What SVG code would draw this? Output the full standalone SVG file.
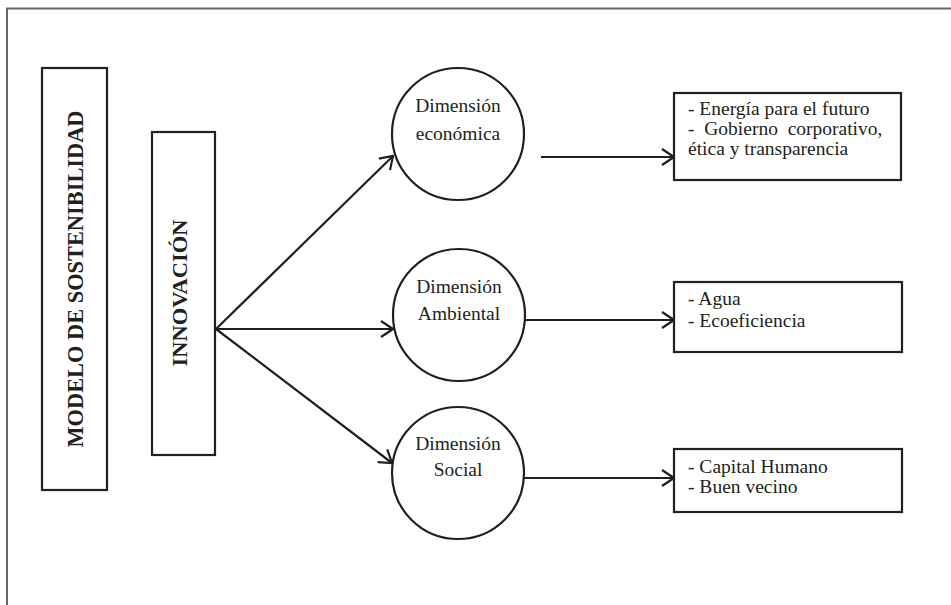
<svg xmlns="http://www.w3.org/2000/svg" width="951" height="605" viewBox="0 0 951 605">
<defs>
<style>
.box{fill:#fff;stroke:#231f20;stroke-width:2.2}
.circ{fill:#fff;stroke:#231f20;stroke-width:2.2}
.con{fill:none;stroke:#231f20;stroke-width:2.2}
.t{font-family:"Liberation Serif","Times New Roman",serif;font-size:19.5px;fill:#231f20}
.tc{text-anchor:middle}
.b{font-family:"Liberation Serif","Times New Roman",serif;font-weight:bold;fill:#231f20;text-anchor:middle}
.frame{fill:none;stroke:#666;stroke-width:2}
</style>
<marker id="arr" viewBox="0 0 14 18" refX="13" refY="9" markerWidth="14" markerHeight="18" markerUnits="userSpaceOnUse" orient="auto">
<path d="M1,1 L13,9 L1,17" fill="none" stroke="#231f20" stroke-width="2.2"/>
</marker>
</defs>
<rect width="951" height="605" fill="#fff"/>
<path class="frame" d="M7,605 L7,8.5 L951,8.5"/>
<g id="modelo">
<rect class="box" x="42" y="68" width="65" height="422"/>
<text class="b" transform="translate(83,279) rotate(-90)" font-size="24" textLength="337" lengthAdjust="spacingAndGlyphs">MODELO DE SOSTENIBILIDAD</text>
</g>
<g id="innovacion">
<rect class="box" x="152" y="132" width="63" height="323"/>
<text class="b" transform="translate(187,293) rotate(-90)" font-size="22" textLength="147" lengthAdjust="spacingAndGlyphs">INNOVACIÓN</text>
</g>
<g id="economica">
<circle class="circ" cx="458" cy="134" r="66"/>
<text class="t tc" x="458" y="112">Dimensión</text>
<text class="t tc" x="458" y="140">económica</text>
</g>
<g id="ambiental">
<circle class="circ" cx="459" cy="315" r="66"/>
<text class="t tc" x="459" y="293">Dimensión</text>
<text class="t tc" x="459" y="320">Ambiental</text>
</g>
<g id="social">
<circle class="circ" cx="458" cy="473" r="66"/>
<text class="t tc" x="458" y="450">Dimensión</text>
<text class="t tc" x="458" y="476">Social</text>
</g>
<g id="box-economica">
<rect class="box" x="674" y="93" width="227" height="87"/>
<text class="t" x="688" y="115">- Energía para el futuro</text>
<text class="t" x="688" y="135" xml:space="preserve">-  Gobierno  corporativo,</text>
<text class="t" x="688" y="155">ética y transparencia</text>
</g>
<g id="box-ambiental">
<rect class="box" x="674" y="282" width="228" height="70"/>
<text class="t" x="688" y="305">- Agua</text>
<text class="t" x="688" y="327">- Ecoeficiencia</text>
</g>
<g id="box-social">
<rect class="box" x="674" y="449" width="228" height="63"/>
<text class="t" x="688" y="473">- Capital Humano</text>
<text class="t" x="688" y="493">- Buen vecino</text>
</g>
<g id="connectors">
<line class="con" x1="216" y1="329" x2="393" y2="156" marker-end="url(#arr)"/>
<line class="con" x1="216" y1="329" x2="393" y2="329" marker-end="url(#arr)"/>
<line class="con" x1="216" y1="329" x2="392" y2="463" marker-end="url(#arr)"/>
<line class="con" x1="541" y1="157" x2="674" y2="157" marker-end="url(#arr)"/>
<line class="con" x1="525" y1="320" x2="674" y2="320" marker-end="url(#arr)"/>
<line class="con" x1="524" y1="478" x2="674" y2="478" marker-end="url(#arr)"/>
</g>
</svg>
